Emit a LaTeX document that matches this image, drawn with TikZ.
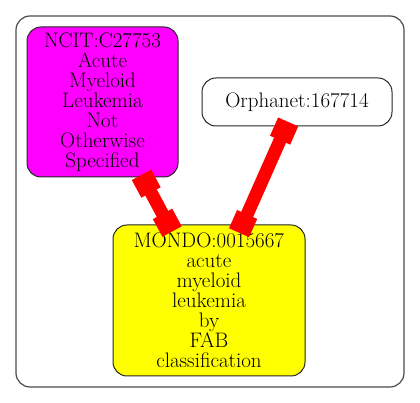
\documentclass[tikz,border=0pt]{standalone}
\usepackage{tikz}
\usetikzlibrary{arrows.meta}
\definecolor{ncitfill}{RGB}{255,0,255}
\definecolor{mondofill}{RGB}{255,255,0}
\definecolor{linkred}{RGB}{255,0,0}

\begin{document}
\begin{tikzpicture}[x=1pt, y=1pt,
    term/.style={draw=black!85, line width=1pt, rounded corners=14pt, align=center, inner sep=0pt, font=\fontsize{21}{20}\selectfont},
    link/.style={draw=linkred, line width=13pt, {Rectangle[length=20pt,width=22pt]}-{Rectangle[length=20pt,width=22pt]}}]
    \useasboundingbox (0,0) rectangle (420,403);
    \draw[black!70, line width=1.2pt, rounded corners=14pt] (16,16) rectangle (404,387); % cluster frame

    % edit here for the terms
    \node[term, fill=ncitfill, minimum width=151pt, minimum height=150pt] (ncit) at (102.5,301)
        {NCIT:C27753\\Acute\\Myeloid\\Leukemia\\Not\\Otherwise\\Specified};
    \node[term, fill=white, minimum width=190pt, minimum height=48pt] (orpha) at (297,301) {Orphanet:167714};
    \node[term, fill=mondofill, minimum width=192pt, minimum height=151pt] (mondo) at (209,102.5)
        {MONDO:0015667\\acute\\myeloid\\leukemia\\by\\FAB\\classification};

    \draw[link, shorten <=-3pt, shorten >=-8pt] (ncit) -- (mondo);
    \draw[link, shorten <=-5pt, shorten >=-9pt] (orpha) -- (mondo);
\end{tikzpicture}
\end{document}
